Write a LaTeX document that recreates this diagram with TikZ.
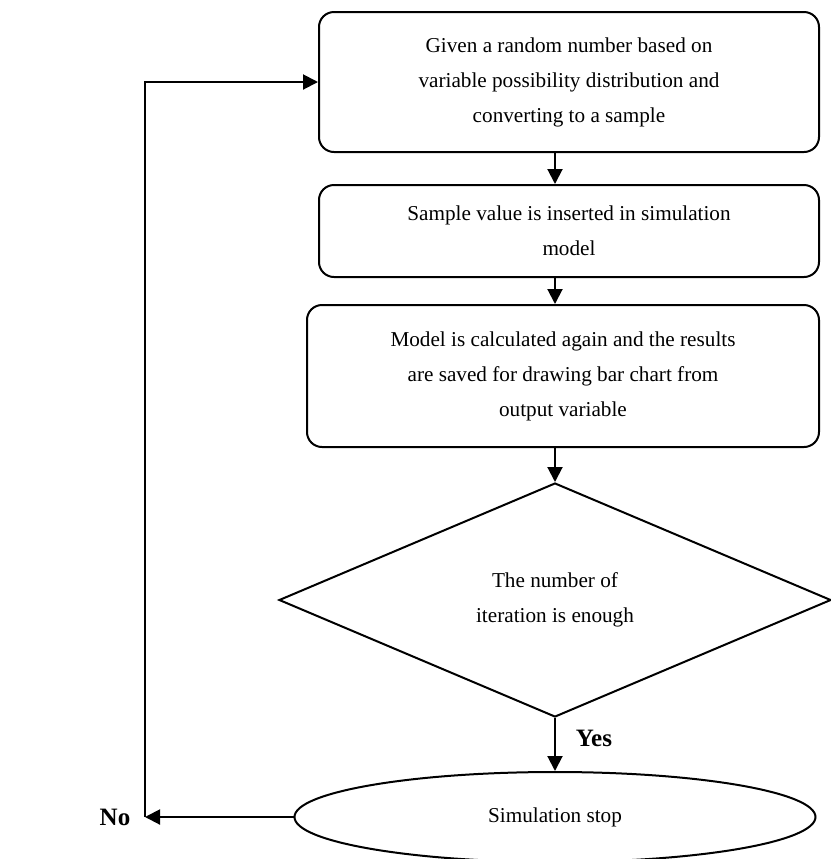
\documentclass[tikz,border=0pt]{standalone}
\usepackage{fontspec}
\setmainfont{Liberation Serif}
\usetikzlibrary{shapes.geometric,arrows.meta}
\newcommand{\flowfont}{\fontsize{10.6}{17.5}\selectfont}

\begin{document}
\begin{tikzpicture}[x=0.5pt,y=-0.5pt,
	line width=1pt,
	box/.style={draw, rounded corners=7.5pt, align=center, inner sep=0pt, font=\flowfont},
	flow/.style={-{Triangle[length=7.5pt,width=7.5pt]}}]
	\useasboundingbox (0,0) rectangle (831,859);

	\node[box, minimum width=250pt, minimum height=70pt] (given) at (569,82)
		{Given a random number based on\\variable possibility distribution and\\converting to a sample};
	\node[box, minimum width=250pt, minimum height=46pt] (sample) at (569,231)
		{Sample value is inserted in simulation\\model};
	\node[box, minimum width=256pt, minimum height=71pt] (model) at (563,376)
		{Model is calculated again and the results\\are saved for drawing bar chart from\\output variable};
	\node[draw, diamond, minimum width=276pt, minimum height=117pt, inner sep=0pt,
		align=center, font=\flowfont] (enough) at (555,600)
		{The number of\\iteration is enough};
	\node[draw, ellipse, minimum width=260.5pt, minimum height=45pt, inner sep=0pt,
		font=\flowfont] (stop) at (555,817) {Simulation stop};
	\coordinate (back) at (145,817);

	\node[font=\fontsize{12.5}{14}\selectfont\bfseries] (yes) at (594,738) {Yes};
	\node[font=\fontsize{12.5}{14}\selectfont\bfseries] (no) at (115,817) {No};

	\draw[flow] (given.south -| enough.north) -- (sample.north -| enough.north);
	\draw[flow] (sample.south -| enough.north) -- (model.north -| enough.north);
	\draw[flow] (model.south -| enough.north) -- (enough.north);
	\draw[flow] (enough.south) -- (stop.north);
	\draw[flow] (stop.west) -- (back);
	\draw[flow] (back) -- (back |- given.west) -- (given.west);

\end{tikzpicture}
\end{document}
